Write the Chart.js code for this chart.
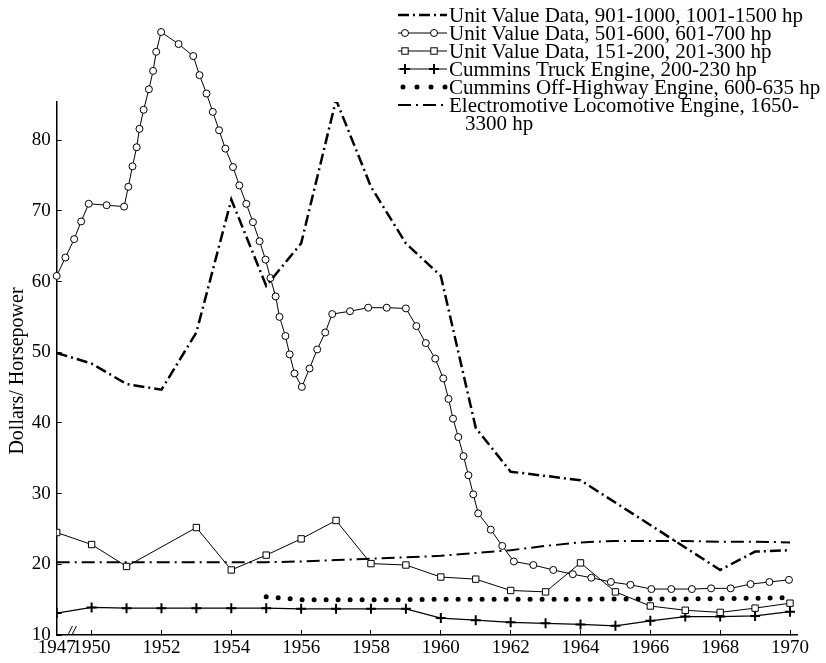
<!DOCTYPE html>
<html>
<head>
<meta charset="utf-8">
<script src="https://cdn.jsdelivr.net/npm/chart.js@4.4.0/dist/chart.umd.min.js"></script>
<style>
  html, body { margin: 0; padding: 0; background: #fff; }
  #wrap { width: 826px; height: 663px; }
</style>
</head>
<body>
<div id="wrap"><canvas id="chart" width="826" height="663"></canvas></div>
<script>
// axis is broken between 1947 and 1950: 1947-1950 is squeezed into one year
function axisYear(y) {
	return y < 1950 ? 1949 + (y - 1947) / 3 : y;
}

const xTicks = [1949, 1950, 1952, 1954, 1956, 1958, 1960, 1962, 1964, 1966, 1968, 1970];
const yTicks = [10, 20, 30, 40, 50, 60, 70, 80];

// Unit Value Data, 901-1000, 1001-1500 hp
const uvHighYears = [1947, 1950, 1951, 1952, 1953, 1954, 1955, 1956, 1957, 1958, 1959, 1960, 1961, 1962, 1964, 1968, 1969, 1970];
const uvHighValues = [49.9, 48.4, 45.5, 44.7, 52.8, 71.6, 59.4, 65.4, 85.7, 73.4, 65.4, 60.8, 39.3, 33.1, 31.9, 19.2, 21.8, 22.0];

// Unit Value Data, 501-600, 601-700 hp
const uvMidYears = [1947, 1947.75, 1948.5, 1949.1, 1949.75, 1950.43, 1950.93, 1951.05, 1951.17, 1951.29,
	1951.37, 1951.49, 1951.64, 1951.76, 1951.85, 1951.99, 1952.49, 1952.91, 1953.09, 1953.29,
	1953.47, 1953.65, 1953.83, 1954.05, 1954.23, 1954.43, 1954.62, 1954.81, 1954.98, 1955.12,
	1955.27, 1955.38, 1955.55, 1955.67, 1955.81, 1956.02, 1956.24, 1956.46, 1956.69, 1956.89,
	1957.40, 1957.92, 1958.45, 1959.00, 1959.30, 1959.57, 1959.84, 1960.07, 1960.22, 1960.35,
	1960.50, 1960.65, 1960.79, 1960.93, 1961.07, 1961.43, 1961.76, 1962.09, 1962.65, 1963.22,
	1963.78, 1964.31, 1964.87, 1965.43, 1966.03, 1966.60, 1967.19, 1967.74, 1968.30, 1968.87,
	1969.41, 1969.97];
const uvMidValues = [60.8, 63.4, 66.0, 68.5, 71.0, 70.8, 70.6, 73.4, 76.3, 79.0,
	81.6, 84.3, 87.2, 89.8, 92.5, 95.3, 93.6, 91.9, 89.2, 86.6,
	84.0, 81.4, 78.8, 76.2, 73.6, 71.0, 68.4, 65.7, 63.1, 60.5,
	57.9, 55.0, 52.3, 49.7, 47.0, 45.1, 47.7, 50.4, 52.8, 55.4,
	55.8, 56.3, 56.3, 56.2, 53.7, 51.3, 49.1, 46.3, 43.4, 40.6,
	38.0, 35.3, 32.6, 29.9, 27.2, 24.9, 22.6, 20.4, 19.9, 19.2,
	18.6, 18.1, 17.5, 17.1, 16.5, 16.5, 16.5, 16.6, 16.6, 17.2,
	17.5, 17.8];

// Unit Value Data, 151-200, 201-300 hp
const uvLowYears = [1947, 1950, 1951, 1953, 1954, 1955, 1956, 1957, 1958, 1959, 1960, 1961, 1962, 1963, 1964, 1965, 1966, 1967, 1968, 1969, 1970];
const uvLowValues = [24.5, 22.8, 19.7, 25.2, 19.2, 21.3, 23.6, 26.2, 20.1, 19.9, 18.2, 17.9, 16.3, 16.1, 20.2, 16.1, 14.1, 13.5, 13.2, 13.8, 14.5];

// Cummins Truck Engine, 200-230 hp
const truckYears = [1947, 1950, 1951, 1952, 1953, 1954, 1955, 1956, 1957, 1958, 1959, 1960, 1961, 1962, 1963, 1964, 1965, 1966, 1967, 1968, 1969, 1970];
const truckValues = [13.1, 13.9, 13.8, 13.8, 13.8, 13.8, 13.8, 13.7, 13.7, 13.7, 13.7, 12.4, 12.1, 11.8, 11.65, 11.5, 11.3, 12.0, 12.6, 12.6, 12.7, 13.3];

// Cummins Off-Highway Engine, 600-635 hp
const offHwyYears = [1955, 1956, 1957, 1958, 1959, 1960, 1961, 1962, 1963, 1964, 1965, 1966, 1967, 1968, 1969, 1970];
const offHwyValues = [15.4, 15.0, 15.0, 15.0, 15.0, 15.05, 15.05, 15.05, 15.05, 15.05, 15.1, 15.1, 15.1, 15.15, 15.2, 15.3];

// Electromotive Locomotive Engine, 1650-3300 hp
const locoYears = [1947, 1950, 1955, 1956, 1957, 1958, 1959, 1960, 1961, 1962, 1963, 1964, 1965, 1966, 1967, 1968, 1969, 1970];
const locoValues = [20.3, 20.3, 20.3, 20.4, 20.6, 20.8, 21.0, 21.2, 21.6, 22.0, 22.6, 23.1, 23.3, 23.3, 23.3, 23.2, 23.2, 23.1];

function pts(years, values) {
	return years.map((y, i) => ({ x: axisYear(y), y: values[i] }));
}

const SERIF = '"Liberation Serif", "Times New Roman", serif';

const datasets = [
	{
		label: 'Unit Value Data, 901-1000, 1001-1500 hp',
		data: pts(uvHighYears, uvHighValues),
		borderColor: '#000',
		borderWidth: 2.5,
		borderDash: [11, 4, 2, 4],
		pointRadius: 0,
		symbol: 'none'
	},
	{
		label: 'Unit Value Data, 501-600, 601-700 hp',
		data: pts(uvMidYears, uvMidValues),
		borderColor: '#000',
		borderWidth: 1,
		pointStyle: 'circle',
		pointRadius: 3.5,
		pointBorderWidth: 1,
		pointBackgroundColor: '#fff',
		pointBorderColor: '#000',
		clip: false,
		symbol: 'circle'
	},
	{
		label: 'Unit Value Data, 151-200, 201-300 hp',
		data: pts(uvLowYears, uvLowValues),
		borderColor: '#000',
		borderWidth: 1,
		pointStyle: 'rect',
		pointRadius: 4.5,
		pointBorderWidth: 1,
		pointBackgroundColor: '#fff',
		pointBorderColor: '#000',
		symbol: 'square'
	},
	{
		label: 'Cummins Truck Engine, 200-230 hp',
		data: pts(truckYears, truckValues),
		borderColor: '#000',
		borderWidth: 1.2,
		pointStyle: 'cross',
		pointRadius: 5,
		pointBorderWidth: 2,
		pointBorderColor: '#000',
		symbol: 'cross'
	},
	{
		label: 'Cummins Off-Highway Engine, 600-635 hp',
		data: pts(offHwyYears, offHwyValues),
		borderColor: '#000',
		borderWidth: 5,
		borderDash: [0, 12],
		borderCapStyle: 'round',
		pointRadius: 0,
		symbol: 'dots'
	},
	{
		label: 'Electromotive Locomotive Engine, 1650-|3300 hp',
		data: pts(locoYears, locoValues),
		borderColor: '#000',
		borderWidth: 2,
		borderDash: [13, 5, 2, 5],
		pointRadius: 0,
		symbol: 'none'
	}
];

function marker(ctx, kind, x, y) {
	ctx.save();
	ctx.setLineDash([]);
	ctx.strokeStyle = '#000';
	ctx.fillStyle = '#fff';
	ctx.lineWidth = 1;
	if (kind === 'circle') {
		ctx.beginPath();
		ctx.arc(x, y, 3.5, 0, Math.PI * 2);
		ctx.fill();
		ctx.stroke();
	} else if (kind === 'square') {
		ctx.fillRect(x - 3.2, y - 3.2, 6.4, 6.4);
		ctx.strokeRect(x - 3.2, y - 3.2, 6.4, 6.4);
	} else if (kind === 'cross') {
		ctx.lineWidth = 2;
		ctx.beginPath();
		ctx.moveTo(x - 5, y); ctx.lineTo(x + 5, y);
		ctx.moveTo(x, y - 5); ctx.lineTo(x, y + 5);
		ctx.stroke();
	}
	ctx.restore();
}

// points that rise above the plot area (the 1951-53 peak) are skipped by
// Chart.js, so draw those elements again with the whole canvas as area
const overflowPoints = {
	id: 'overflowPoints',
	afterDatasetsDraw(chart) {
		const meta = chart.getDatasetMeta(1);
		const whole = { left: 0, top: 0, right: chart.width, bottom: chart.height };
		meta.data.forEach(p => {
			if (p.y < chart.chartArea.top + 4) p.draw(chart.ctx, whole);
		});
	}
};

const legendPlugin = {
	id: 'paperLegend',
	afterDraw(chart) {
		const ctx = chart.ctx;
		const x0 = 398, x1 = 447, tx = 449;
		const rowY = [15, 33, 51, 69, 87, 105];
		ctx.save();
		ctx.font = '21px ' + SERIF;
		ctx.textBaseline = 'middle';
		ctx.fillStyle = '#000';
		chart.data.datasets.forEach((ds, i) => {
			const y = rowY[i];
			ctx.save();
			ctx.strokeStyle = '#000';
			if (ds.symbol === 'dots') {
				ctx.lineWidth = 5;
				ctx.lineCap = 'round';
				ctx.setLineDash([0, 14]);
				ctx.beginPath();
				ctx.moveTo(x0 + 5, y);
				ctx.lineTo(x1, y);
				ctx.stroke();
			} else {
				ctx.lineWidth = ds.borderWidth;
				ctx.setLineDash(ds.borderDash || []);
				ctx.beginPath();
				ctx.moveTo(x0, y);
				ctx.lineTo(x1, y);
				ctx.stroke();
				if (ds.symbol !== 'none') {
					marker(ctx, ds.symbol, x0 + 7, y);
					marker(ctx, ds.symbol, x0 + 36, y);
				}
			}
			ctx.restore();
			const lines = ds.label.split('|');
			ctx.fillText(lines[0], tx, y + 1);
			if (lines[1]) ctx.fillText(lines[1], tx + 16, y + 19);
		});
		ctx.restore();
	}
};

const axisDecor = {
	id: 'axisDecor',
	afterDraw(chart) {
		const ctx = chart.ctx;
		const xs = chart.scales.x;
		const ys = chart.scales.y;
		// y axis title
		ctx.save();
		ctx.font = '20px ' + SERIF;
		ctx.fillStyle = '#000';
		ctx.textAlign = 'center';
		ctx.textBaseline = 'middle';
		ctx.translate(18, 371);
		ctx.rotate(-Math.PI / 2);
		ctx.fillText('Dollars/ Horsepower', 0, 0);
		ctx.restore();
		// break mark on the x axis
		const bx = xs.getPixelForValue(1949.45);
		const by = ys.getPixelForValue(10) - 5;
		ctx.save();
		ctx.strokeStyle = '#000';
		ctx.lineWidth = 1;
		ctx.beginPath();
		ctx.moveTo(bx - 4, by + 4); ctx.lineTo(bx, by - 4);
		ctx.moveTo(bx, by + 4); ctx.lineTo(bx + 4, by - 4);
		ctx.stroke();
		ctx.restore();
	}
};

const config = {
	type: 'line',
	data: { datasets: datasets },
	plugins: [overflowPoints, legendPlugin, axisDecor],
	options: {
		responsive: false,
		devicePixelRatio: 1,
		animation: false,
		layout: {
			padding: { top: 102, right: 29, left: 0, bottom: 0 }
		},
		elements: {
			line: { tension: 0 }
		},
		plugins: {
			legend: { display: false },
			title: { display: false },
			tooltip: { enabled: false }
		},
		scales: {
			x: {
				type: 'linear',
				min: 1949,
				max: 1970.2,
				afterBuildTicks: function(scale) {
					scale.ticks = xTicks.map(v => ({ value: v }));
				},
				afterFit: function(scale) {
					scale.height = 28;
				},
				ticks: {
					autoSkip: false,
					maxRotation: 0,
					minRotation: 0,
					padding: 7,
					color: '#000',
					font: { family: SERIF, size: 19 },
					callback: function(value) {
						return value === 1949 ? '1947' : String(value);
					}
				},
				grid: {
					drawOnChartArea: false,
					drawTicks: true,
					tickLength: -5,
					color: '#000',
					lineWidth: 1
				},
				border: { display: true, color: '#000', width: 1.5 }
			},
			y: {
				type: 'linear',
				min: 10,
				max: 85.4,
				afterBuildTicks: function(scale) {
					scale.ticks = yTicks.map(v => ({ value: v }));
				},
				afterFit: function(scale) {
					scale.width = 56.7;
				},
				ticks: {
					padding: 11,
					color: '#000',
					font: { family: SERIF, size: 19 }
				},
				grid: {
					drawOnChartArea: false,
					drawTicks: true,
					tickLength: -5,
					color: '#000',
					lineWidth: 1
				},
				border: { display: true, color: '#000', width: 1.5 }
			}
		}
	}
};

const chart = new Chart(document.getElementById('chart'), config);
</script>
</body>
</html>
